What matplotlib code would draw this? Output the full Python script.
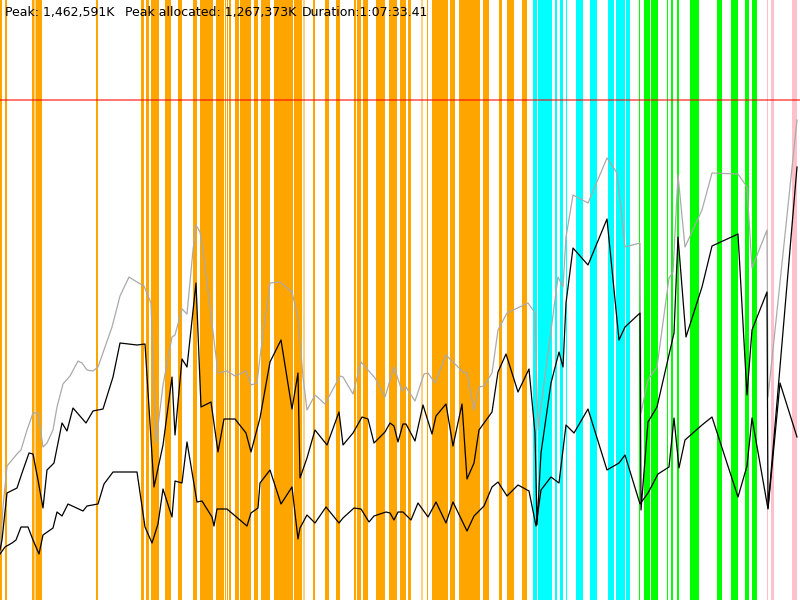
import matplotlib
matplotlib.use("Agg")
import matplotlib.pyplot as plt

# GC log: time in seconds, heap in MB

# committed heap (gray)
total_t = [0, 15, 35, 85, 105, 135, 165, 190, 215, 235, 265, 285, 315, 350, 390, 410, 435, 465, 490,
           560, 600, 645, 685, 720, 755, 780, 815, 860, 875, 910, 935, 965, 980, 1000, 1015, 1090,
           1135, 1175, 1230, 1255, 1285, 1300, 1350, 1400, 1460, 1490, 1515, 1535, 1575, 1625, 1700,
           1715, 1765, 1805, 1875, 1925, 1970, 2010, 2030, 2075, 2120, 2140, 2175, 2230, 2315, 2335,
           2370, 2395, 2420, 2460, 2490, 2535, 2640, 2675, 2690, 2790, 2815, 2830, 2865, 2940, 3035,
           3085, 3100, 3125, 3200, 3205, 3240, 3285, 3345, 3365, 3390, 3425, 3510, 3560, 3690, 3735,
           3760, 3835, 3840, 3985]
total_mb = [135, 279, 402, 438, 450, 510, 561, 561, 459, 471, 510, 579, 648, 672, 717, 711, 690, 687, 699,
            819, 912, 969, 954, 942, 891, 471, 645, 789, 795, 873, 858, 1050, 1125, 1104, 1050, 681,
            687, 672, 687, 645, 651, 729, 951, 954, 924, 846, 669, 570, 615, 588, 672,
            669, 618, 714, 666, 609, 699, 627, 639, 597, 678, 681, 651, 735, 684, 681,
            570, 639, 642, 681, 810, 861, 891, 861, 510, 969, 939, 1089, 1215, 1191, 1326,
            1281, 1200, 1059, 1071, 561, 660, 699, 966, 984, 1275, 1059, 1170, 1281, 1278, 1239,
            996, 1110, 609, 1440]

# used heap before collection (upper black)
used_t = [0, 10, 35, 85, 110, 145, 165, 190, 215, 235, 270, 310, 335, 365, 430, 465, 515, 565, 600,
          685, 725, 770, 815, 860, 875, 910, 935, 980, 1005, 1055, 1090, 1120, 1175, 1230, 1255,
          1300, 1350, 1405, 1460, 1490, 1500, 1535, 1575, 1635, 1695, 1715, 1765, 1810, 1840, 1870,
          1925, 1950, 1970, 1990, 2015, 2030, 2075, 2115, 2160, 2180, 2230, 2265, 2310, 2335, 2370,
          2395, 2460, 2490, 2530, 2590, 2645, 2675, 2685, 2705, 2755, 2795, 2815, 2830, 2865, 2940,
          3035, 3095, 3125, 3200, 3205, 3240, 3285, 3370, 3390, 3430, 3510, 3560, 3690, 3735, 3760,
          3835, 3840, 3985]
used_mb = [150, 180, 321, 336, 381, 441, 438, 360, 276, 390, 411, 531, 507, 576, 531, 567, 573, 669, 771,
           765, 768, 339, 465, 669, 495, 723, 699, 951, 579, 594, 444, 543, 543, 501, 444,
           546, 714, 780, 573, 681, 366, 426, 510, 465, 564, 465, 501, 549, 543, 471,
           504, 531, 522, 474, 528, 528, 477, 585, 498, 552, 588, 462, 588, 363, 411,
           510, 564, 684, 738, 624, 693, 501, 225, 441, 651, 744, 699, 891, 1056, 1005,
           1143, 780, 819, 861, 270, 534, 579, 801, 1089, 789, 939, 1062, 1098, 615, 810,
           924, 276, 1299]

# used heap after collection (lower black)
after_t = [0, 25, 60, 80, 105, 140, 165, 195, 215, 265, 285, 310, 340, 415, 435, 490, 520, 565, 685,
           725, 760, 790, 815, 860, 875, 910, 935, 985, 1010, 1060, 1070, 1085, 1135, 1235, 1255,
           1290, 1300, 1350, 1405, 1460, 1490, 1500, 1535, 1575, 1630, 1695, 1715, 1770, 1805, 1845,
           1870, 1930, 1950, 1970, 1990, 2015, 2055, 2090, 2140, 2180, 2230, 2265, 2335, 2370, 2420,
           2460, 2490, 2535, 2590, 2645, 2680, 2705, 2755, 2795, 2830, 2870, 2940, 3035, 3095, 3125,
           3200, 3240, 3290, 3345, 3370, 3395, 3425, 3510, 3560, 3690, 3735, 3760, 3840, 3900, 3985]
after_mb = [138, 159, 171, 180, 219, 219, 180, 138, 195, 216, 264, 252, 288, 267, 282, 288, 348, 384, 384,
            219, 171, 228, 333, 249, 357, 351, 474, 294, 297, 249, 222, 273, 273, 222, 261,
            276, 351, 390, 288, 339, 183, 216, 255, 231, 279, 231, 246, 276, 273, 234,
            252, 264, 261, 240, 264, 264, 240, 291, 249, 294, 231, 294, 207, 252, 282,
            339, 354, 312, 345, 327, 222, 330, 369, 351, 525, 501, 573, 390, 411, 435,
            288, 321, 378, 399, 546, 396, 480, 525, 549, 309, 402, 546, 273, 651, 489]

max_heap_mb = 1500

# collection events (start, end) in seconds
young_gc = [(0, 10), (25, 35), (160, 170), (180, 210), (480, 490), (705, 720), (730, 745), (755, 795),
            (825, 855), (890, 910), (965, 985), (1000, 1065), (1080, 1120), (1125, 1130), (1135, 1140),
            (1145, 1155), (1175, 1195), (1200, 1255), (1270, 1290), (1305, 1350), (1370, 1465),
            (1470, 1510), (1565, 1575), (1625, 1645), (1680, 1700), (1770, 1780), (1785, 1805),
            (1815, 1840), (1880, 1925), (1945, 1985), (2000, 2030), (2040, 2055), (2135, 2140),
            (2160, 2240), (2250, 2275), (2295, 2400), (2415, 2445), (2495, 2510), (2535, 2570),
            (2610, 2635)]
young_gc_short = [(170, 180), (1515, 1525), (2105, 2115)]
remark = [(2665, 2685), (2690, 2760), (2775, 2785), (2800, 2815), (2830, 2835), (2880, 2915),
          (2950, 2985), (3040, 3070), (3080, 3125), (3130, 3150)]
mixed_gc = [(3195, 3200), (3220, 3250), (3255, 3290), (3335, 3340), (3355, 3365), (3385, 3395),
            (3450, 3495), (3585, 3610), (3655, 3690), (3725, 3745), (3760, 3785)]
full_gc = [(3835, 3840), (3855, 3870), (3960, 3985)]

fig = plt.figure(figsize=(8, 6), dpi=100)
ax = fig.add_axes([0, 0, 1, 1])

for spans, col, a in [(young_gc, 'orange', 1.0), (young_gc_short, 'orange', 0.5),
                      (remark, 'cyan', 1.0), (mixed_gc, 'lime', 1.0), (full_gc, 'pink', 1.0)]:
    for s, e in spans:
        ax.axvspan(s, e, color=col, alpha=a, lw=0)

ax.axhline(max_heap_mb, color='red', alpha=0.55, lw=1.4)
ax.plot(total_t, total_mb, color='#aaaaaa', lw=0.9)
ax.plot(used_t, used_mb, color='black', lw=0.9)
ax.plot(after_t, after_mb, color='black', lw=0.9)

ax.set_xlim(0, 4000)
ax.set_ylim(0, 1800)
ax.axis('off')

fs = 9
fig.text(5 / 800, 1 - 6 / 600, 'Peak: 1,462,591K', fontsize=fs, va='top')
fig.text(125 / 800, 1 - 6 / 600, 'Peak allocated: 1,267,373K', fontsize=fs, va='top')
fig.text(302 / 800, 1 - 6 / 600, 'Duration:1:07:33.41', fontsize=fs, va='top')

fig.savefig('out.png', dpi=100)
